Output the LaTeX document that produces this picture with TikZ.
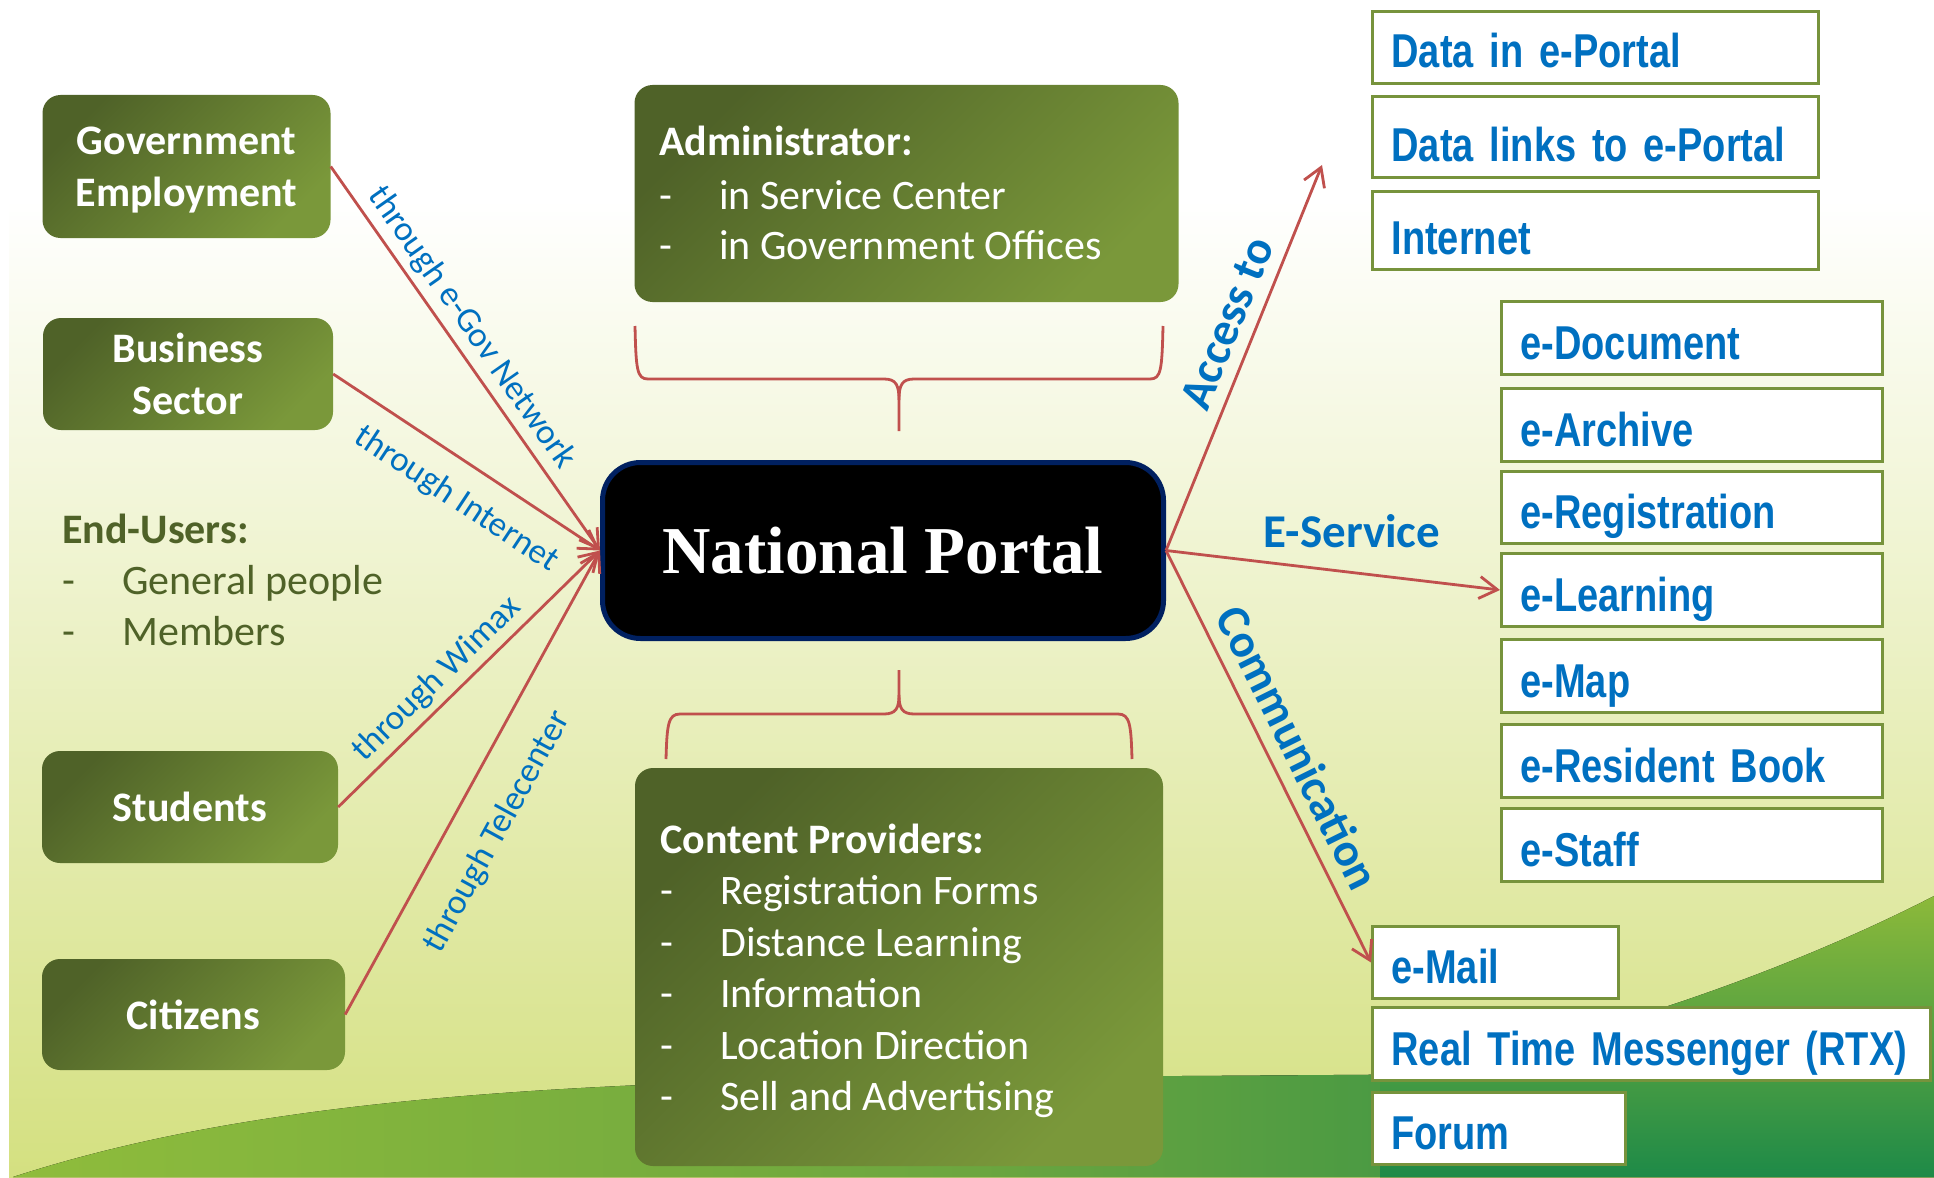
\documentclass[tikz,border=0pt]{standalone}
\usepackage{fontspec}
\setmainfont{Carlito}
\newfontfamily\rfont{Liberation Sans}[FakeStretch=0.80,WordSpace=0.75]
\newfontfamily\npfont{Liberation Serif}
\usetikzlibrary{arrows.meta}
\definecolor{gdark}{RGB}{79,98,40}
\definecolor{glight}{RGB}{122,152,58}
\definecolor{olivebd}{RGB}{119,147,60}
\definecolor{lblue}{RGB}{0,112,192}
\definecolor{conred}{RGB}{192,80,77}
\definecolor{navybd}{RGB}{0,32,96}
\definecolor{bgbot}{RGB}{212,224,128}
\definecolor{hilllight}{RGB}{143,188,60}
\definecolor{hillmid}{RGB}{108,166,63}
\definecolor{hilldark}{RGB}{30,138,72}
\definecolor{hilltop}{RGB}{140,185,58}
\definecolor{eutext}{RGB}{79,98,40}
\begin{document}
\begin{tikzpicture}[x=1pt,y=-1pt,
  gbox/.style={rounded corners=18pt, top color=gdark, bottom color=glight, shading angle=45,
    inner sep=0pt, text=white, font=\fontsize{42}{52}\selectfont\bfseries, align=center},
  ptext/.style={inner sep=0pt, anchor=base west, text=white, font=\fontsize{42}{52}\selectfont},
  ptitle/.style={inner sep=0pt, anchor=base west, text=white, font=\fontsize{42}{52}\selectfont\bfseries},
  rbox/.style 2 args={draw=olivebd, line width=3pt, fill=white, inner xsep=19pt, inner ysep=0pt,
    text width=#1, text height=#2, text depth=15.5pt, align=left, text=lblue,
    font=\rfont\bfseries\fontsize{47.5}{50}\selectfont},
  conn/.style={draw=conred, line width=2.8pt, -{Straight Barb[length=18pt,width=22pt]}},
  bracestyle/.style={draw=conred, line width=2.8pt},
  lbl/.style={text=lblue, inner sep=0pt, font=\fontsize{35}{40}\selectfont},
  blbl/.style={text=lblue, inner sep=0pt, font=\fontsize{47}{50}\selectfont\bfseries}
]
\useasboundingbox (0,0) rectangle (1934,1177);
% background
\fill[white] (0,0) rectangle (1934,1177);
\fill[top color=white, bottom color=bgbot] (9,200) rectangle (1934,1177);
\fill[left color=hilllight, right color=hilldark, middle color=hillmid]
  (13,1177) .. controls (250,1100) and (550,1080) .. (1000,1077)
  .. controls (1400,1075) and (1700,1072) .. (1934,1070) -- (1934,1177) -- cycle;
\fill[top color=hilltop, bottom color=hilldark]
  (1934,896) .. controls (1800,965) and (1600,1040) .. (1380,1080)
  -- (1380,1177) -- (1934,1177) -- cycle;

% left boxes
\node[gbox, minimum width=288pt, minimum height=143pt] (gov) at (186.5,166.5) {Government\\\smash{Employment}};
\node[gbox, minimum width=290pt, minimum height=112pt] (bus) at (188,374) {Business\\Sector};
\node[gbox, minimum width=296pt, minimum height=112pt] (stu) at (190,807) {Students};
\node[gbox, minimum width=303pt, minimum height=111pt] (cit) at (193.5,1014.5) {Citizens};

% end users
\node[ptitle, text=eutext] (euT) at (62,543) {End-Users:};
\node[ptext, text=eutext] (eu1) at (62,594) {\makebox[60pt][l]{-}General people};
\node[ptext, text=eutext] (eu2) at (62,645) {\makebox[60pt][l]{-}Members};

% administrator
\node[gbox, minimum width=544pt, minimum height=217pt] (adm) at (906.5,193.5) {};
\node[ptitle] (admT) at (659,156) {Administrator:};
\node[ptext] (admA) at (659,209) {\makebox[60pt][l]{-}in Service Center};
\node[ptext] (admB) at (659,259) {\makebox[60pt][l]{-}in Government Offices};

% content providers
\node[gbox, minimum width=528pt, minimum height=398pt] (cp) at (899,967) {};
\node[ptitle] (cpT) at (660,853) {Content Providers:};
\node[ptext] (cp1) at (660,904) {\makebox[60pt][l]{-}Registration Forms};
\node[ptext] (cp2) at (660,956) {\makebox[60pt][l]{-}Distance Learning};
\node[ptext] (cp3) at (660,1007) {\makebox[60pt][l]{-}Information};
\node[ptext] (cp4) at (660,1059) {\makebox[60pt][l]{-}Location Direction};
\node[ptext] (cp5) at (660,1110) {\makebox[60pt][l]{-}Sell and Advertising};

% national portal
\node[draw=navybd, line width=5pt, fill=black, rounded corners=38pt, minimum width=561pt,
  minimum height=176pt, text=white, font=\npfont\bfseries\fontsize{67}{70}\selectfont]
  (np) at (883,550.5) {National Portal};

% right boxes
\node[rbox={408pt}{56.5pt}] (dp1) at (1595.5,47.5) {Data in e-Portal};
\node[rbox={408pt}{65.5pt}] (dp2) at (1595.5,137) {Data links to e-Portal};
\node[rbox={408pt}{62.5pt}] (dp3) at (1595.5,230.5) {Internet};
\node[rbox={343pt}{57.5pt}] (edoc) at (1692,338) {e-Document};
\node[rbox={343pt}{57.5pt}] (earc) at (1692,425) {e-Archive};
\node[rbox={343pt}{56.5pt}] (ereg) at (1692,507.5) {e-Registration};
\node[rbox={343pt}{57.5pt}] (el) at (1692,590) {e-Learning};
\node[rbox={343pt}{57.5pt}] (emap) at (1692,676) {e-Map};
\node[rbox={343pt}{57.5pt}] (eres) at (1692,761) {e-Resident Book};
\node[rbox={343pt}{57.5pt}] (estf) at (1692,845) {e-Staff};
\node[rbox={208pt}{56.5pt}] (em) at (1495.5,962.5) {e-Mail};
\node[rbox={520pt}{57.5pt}] (rtx) at (1651.5,1044) {\mbox{Real Time Messenger (RTX)}};
\node[rbox={215pt}{56.5pt}] (forum) at (1499,1128.5) {Forum};

% braces
\draw[bracestyle] (635,326) .. controls (636,370) and (637,379) .. (648,379) -- (884,379)
  .. controls (896,379) and (899,385) .. (899,400) -- (899,431);
\draw[bracestyle] (899,400) .. controls (899,385) and (902,379) .. (914,379) -- (1150,379)
  .. controls (1161,379) and (1162,370) .. (1163,326);
\draw[bracestyle] (666,759) .. controls (667,725) and (668,714) .. (680,714) -- (884,714)
  .. controls (896,714) and (899,708) .. (899,695) -- (899,670);
\draw[bracestyle] (899,695) .. controls (899,708) and (902,714) .. (914,714) -- (1118,714)
  .. controls (1130,714) and (1131,725) .. (1132,759);

% connectors left
\draw[conn] (gov.east) -- node[lbl, sloped, pos=0.454, above=6pt] (l1) {through e-Gov Network} (np.west);
\draw[conn] (bus.east) -- node[lbl, sloped, pos=0.537, below=20pt] (l2) {through Internet} (np.west);
\draw[conn] (stu.east) -- node[lbl, sloped, pos=0.436, above=5.5pt] (l3) {through Wimax} (np.west);
\draw[conn] (cit.east) -- node[lbl, sloped, pos=0.441, below=29pt] (l4) {through Telecenter} (np.west);

% connectors right
\coordinate (acc) at (1322,165);
\draw[conn] (np.east) -- node[blbl, sloped, pos=0.562, above=12pt] (l5) {Access to} (acc);
\draw[conn] (np.east) -- node[blbl, pos=0.557, above=23pt] (l6) {E-Service} (el.west);
\draw[conn] (np.east) -- node[blbl, sloped, pos=0.512, above=12.5pt] (l7) {Communication} (em.west);
\end{tikzpicture}
\end{document}
